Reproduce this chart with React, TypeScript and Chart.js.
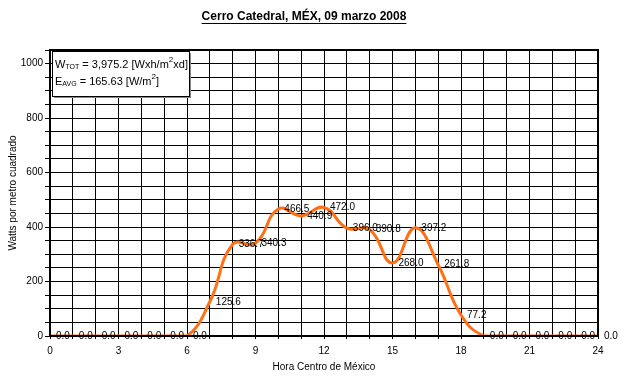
import React, { useEffect, useRef } from "react";
import { Chart, registerables } from "chart.js";

Chart.register(...registerables);

const hours = [0, 1, 2, 3, 4, 5, 6, 7, 8, 9, 10, 11, 12, 13, 14, 15, 16, 17, 18, 19, 20, 21, 22, 23, 24];
const watts = [0, 0, 0, 0, 0, 0, 0, 125.6, 336.7, 340.3, 466.5, 440.9, 472.0, 396.0, 390.8, 268.0, 397.2, 261.8, 77.2, 0, 0, 0, 0, 0, 0];
const titleText = "Cerro Catedral, MÉX, 09 marzo 2008";
const xTitle = "Hora Centro de México";
const yTitle = "Watts por metro cuadrado";
const wTot = "3,975.2";
const eAvg = "165.63";

const FONT = "'Liberation Sans', Arial, sans-serif";

const overlay = {
  id: "overlay",
  afterDatasetsDraw(chart: any) {
    const ctx = chart.ctx;
    const area = chart.chartArea;
    ctx.save();
    // border
    ctx.strokeStyle = "#000";
    ctx.lineWidth = 2;
    ctx.strokeRect(area.left, area.top, area.right - area.left, area.bottom - area.top);

    // data labels
    const meta = chart.getDatasetMeta(0);
    ctx.fillStyle = "#000";
    ctx.font = "10px " + FONT;
    ctx.textBaseline = "middle";
    ctx.textAlign = "left";
    meta.data.forEach((pt: any, i: number) => {
      ctx.fillText(watts[i].toFixed(1), pt.x + 6, pt.y);
    });

    // info box
    const bx = 52, by = 51, bw = 137, bh = 45;
    ctx.fillStyle = "#888";
    ctx.fillRect(bx + 2, by + 2, bw, bh);
    ctx.fillStyle = "#fff";
    ctx.fillRect(bx, by, bw, bh);
    ctx.lineWidth = 1;
    ctx.strokeStyle = "#000";
    ctx.strokeRect(bx + 0.5, by + 0.5, bw, bh);
    ctx.fillStyle = "#000";
    const line = (parts: [string, number, number][], x: number, y: number) => {
      let cx = x;
      for (const [t, size, dy] of parts) {
        ctx.font = size + "px " + FONT;
        ctx.fillText(t, cx, y + dy);
        cx += ctx.measureText(t).width;
      }
    };
    line([["W", 11, 0], ["TOT", 7, 2], [" = " + wTot + " [Wxh/m", 11, 0], ["2", 8, -5], ["xd]", 11, 0]], bx + 3, by + 14);
    line([["E", 11, 0], ["AVG", 7, 2], [" = " + eAvg + " [W/m", 11, 0], ["2", 8, -5], ["]", 11, 0]], bx + 3, by + 31);

    // title
    ctx.font = "bold 12px " + FONT;
    ctx.textAlign = "center";
    ctx.textBaseline = "middle";
    ctx.fillText(titleText, 304, 17);
    const tw = ctx.measureText(titleText).width;
    ctx.fillRect(304 - tw / 2, 23, tw, 1);

    // axis titles
    ctx.font = "10px " + FONT;
    ctx.fillText(xTitle, 324, 367);
    ctx.translate(13, 193);
    ctx.rotate(-Math.PI / 2);
    ctx.fillText(yTitle, 0, 0);
    ctx.restore();
  },
};

export default function App() {
  const ref = useRef<HTMLCanvasElement>(null);
  useEffect(() => {
    document.body.style.margin = "0";
    const chart = new Chart(ref.current!, {
      type: "line",
      data: {
        datasets: [
          {
            data: hours.map((h, i) => ({ x: h, y: watts[i] })),
            borderColor: "#FF7014",
            borderWidth: 3,
            pointRadius: 0,
            tension: 0.45,
            fill: false,
          },
        ],
      },
      options: {
        animation: false,
        responsive: false,
        layout: { padding: { top: 50, right: 36, left: 0, bottom: 0 } },
        plugins: { legend: { display: false }, title: { display: false }, tooltip: { enabled: false } },
        scales: {
          x: {
            type: "linear",
            min: 0,
            max: 24,
            afterFit: (s: any) => { s.height = 50; },
            grid: { color: "#000", lineWidth: 1, drawTicks: true, tickLength: 3, tickColor: "#000" },
            border: { display: true, color: "#000", width: 2 },
            ticks: {
              stepSize: 1,
              autoSkip: false,
              maxRotation: 0,
              padding: 6,
              color: "#000",
              font: { family: FONT, size: 10 },
              callback: (v: any) => (Number(v) % 3 === 0 ? String(v) : ""),
            },
          },
          y: {
            min: 0,
            max: 1050,
            afterFit: (s: any) => { s.width = 50; },
            grid: { color: "#000", lineWidth: 1, drawTicks: true, tickLength: 5, tickColor: "#000" },
            border: { display: true, color: "#000", width: 2 },
            ticks: {
              stepSize: 50,
              autoSkip: false,
              padding: 2,
              color: "#000",
              font: { family: FONT, size: 10 },
              callback: (v: any) => (Number(v) % 200 === 0 ? String(v) : ""),
            },
          },
        },
      },
      plugins: [overlay],
    });
    return () => chart.destroy();
  }, []);
  return (
    <div style={{ position: "absolute", left: 0, top: 0, width: 634, height: 386, background: "#fff" }}>
      <canvas ref={ref} width={634} height={386} />
    </div>
  );
}
